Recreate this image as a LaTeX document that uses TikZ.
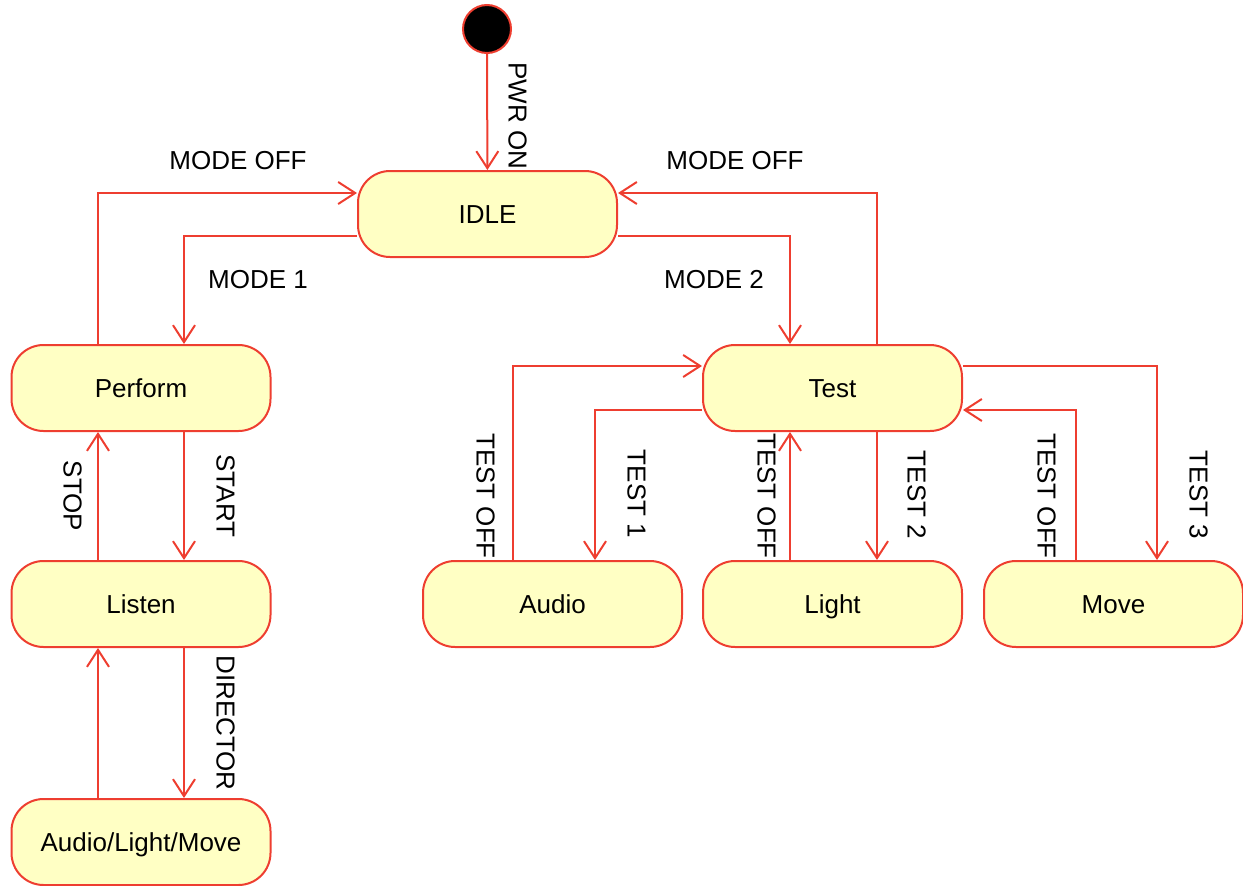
\documentclass[tikz,border=0pt]{standalone}
\usepackage{fontspec}
\setmainfont{Liberation Sans}
\usetikzlibrary{arrows.meta}
\definecolor{umlred}{RGB}{238,62,48}
\definecolor{umlfill}{RGB}{255,255,196}
\begin{document}
\begin{tikzpicture}[x=1pt,y=-1pt,
  font=\fontsize{26}{31}\selectfont,
  state/.style={draw=umlred, line width=2pt, fill=umlfill, rounded corners=32pt,
    minimum width=259pt, minimum height=86pt, inner sep=0pt,
    text height=18.6pt, text depth=0pt},
  startdot/.style={circle, draw=umlred, line width=2pt, fill=black, minimum size=48pt, inner sep=0pt},
  trans/.style={draw=umlred, line width=2pt, -{Straight Barb[length=17pt,width=22pt,line width=2pt]}},
  lbl/.style={inner sep=0pt, text height=18.6pt, text depth=0pt},
  vlbl/.style={inner sep=0pt, rotate=-90, text height=18.6pt, text depth=0pt}
]
\useasboundingbox (0,0) rectangle (1243,886);

% states
\node[startdot] (init) at (487,29) {};
\node[state] (idle) at (487.5,214) {IDLE};
\node[state] (perform) at (141,388) {Perform};
\node[state] (listen) at (141,604) {Listen};
\node[state] (alm) at (141,842) {Audio/Light/Move};
\node[state] (test) at (832.5,388) {Test};
\node[state] (audio) at (552.5,604) {Audio};
\node[state] (light) at (832.5,604) {Light};
\node[state] (move) at (1113.5,604) {Move};

% transitions
\draw[trans] (init) -- (idle);
\draw[trans] ([xshift=-43pt]perform.north) |- ([yshift=21pt]idle.west);
\draw[trans] ([yshift=-22pt]idle.west) -| ([xshift=43pt]perform.north);
\draw[trans] ([yshift=-22pt]idle.east) -| ([xshift=-42.5pt]test.north);
\draw[trans] ([xshift=44.5pt]test.north) |- ([yshift=21pt]idle.east);

\draw[trans] ([xshift=43pt]perform.south) -- ([xshift=43pt]listen.north);
\draw[trans] ([xshift=-43pt]listen.north) -- ([xshift=-43pt]perform.south);
\draw[trans] ([xshift=43pt]listen.south) -- ([xshift=43pt]alm.north);
\draw[trans] ([xshift=-43pt]alm.north) -- ([xshift=-43pt]listen.south);

\draw[trans] ([yshift=-22pt]test.west) -| ([xshift=42.5pt]audio.north);
\draw[trans] ([xshift=-39.5pt]audio.north) |- ([yshift=22pt]test.west);
\draw[trans] ([xshift=44.5pt]test.south) -- ([xshift=44.5pt]light.north);
\draw[trans] ([xshift=-42.5pt]light.north) -- ([xshift=-42.5pt]test.south);
\draw[trans] ([yshift=22pt]test.east) -| ([xshift=43.5pt]move.north);
\draw[trans] ([xshift=-37.5pt]move.north) |- ([yshift=-22pt]test.east);

% labels
\node[vlbl] (lpwr) at (518,116) {PWR ON};
\node[lbl] (lmoffl) at (238,160) {MODE OFF};
\node[lbl] (lmoffr) at (735,160) {MODE OFF};
\node[lbl] (lm1) at (258,279) {MODE 1};
\node[lbl] (lm2) at (714,279) {MODE 2};
\node[vlbl] (lstart) at (226,496) {START};
\node[vlbl] (lstop) at (73,496) {STOP};
\node[vlbl] (ldir) at (226,723) {DIRECTOR};
\node[vlbl] (lt1) at (637,494) {TEST 1};
\node[vlbl] (ltoffa) at (486,496) {TEST OFF};
\node[vlbl] (ltoffl) at (767,496) {TEST OFF};
\node[vlbl] (lt2) at (917,495) {TEST 2};
\node[vlbl] (ltoffm) at (1047,496) {TEST OFF};
\node[vlbl] (lt3) at (1199,495) {TEST 3};
\end{tikzpicture}
\end{document}
